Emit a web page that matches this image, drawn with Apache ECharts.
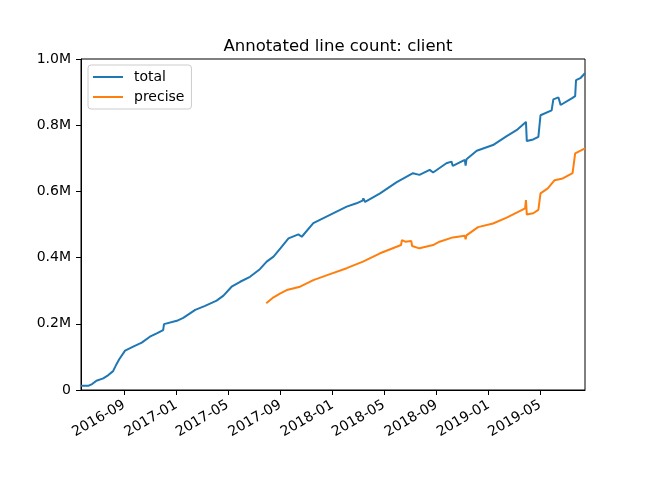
<!DOCTYPE html>
<html>
<head>
<meta charset="utf-8">
<script src="https://cdn.jsdelivr.net/npm/echarts@6/dist/echarts.min.js"></script>
<style>
  html, body { margin: 0; padding: 0; background: #fff; }
  #chart { width: 650px; height: 488px; }
</style>
</head>
<body>
<div id="chart"></div>
<script>
const chartTitle = 'Annotated line count: client';
const seriesNames = ['total', 'precise'];

const totalDates = [
  '2016-05-23','2016-06-10','2016-06-18','2016-06-28','2016-07-14','2016-07-26','2016-08-06','2016-08-14',
  '2016-08-20','2016-09-03','2016-09-22','2016-10-12','2016-10-31','2016-11-16','2016-12-01','2016-12-03',
  '2017-01-02','2017-01-17','2017-02-14','2017-03-09','2017-04-05','2017-04-21','2017-05-10','2017-05-30',
  '2017-06-22','2017-07-15','2017-07-31','2017-08-16','2017-09-01','2017-09-20','2017-10-13','2017-10-21',
  '2017-11-17','2017-12-26','2018-02-03','2018-02-26','2018-03-12','2018-03-14','2018-03-18','2018-03-22',
  '2018-04-22','2018-05-31','2018-07-08','2018-07-23','2018-08-16','2018-08-24','2018-09-24','2018-10-06',
  '2018-10-09','2018-11-06','2018-11-08','2018-11-10','2018-12-04','2019-01-11','2019-02-12','2019-03-07',
  '2019-03-29','2019-03-31','2019-04-15','2019-04-27','2019-05-02','2019-05-28','2019-06-01','2019-06-13',
  '2019-06-18','2019-07-14','2019-07-22','2019-07-24','2019-08-03','2019-08-14'
];
const totalValues = [
  13000,13000,18000,28000,35000,45000,57000,78000,
  92000,119000,131000,143000,161000,171000,181000,199000,
  209000,218000,242000,254000,270000,285000,312000,327000,
  342000,365000,388000,403000,428000,458000,470000,463000,
  504000,529000,554000,564000,572000,579000,568000,566000,
  594000,628000,655000,650000,665000,657000,685000,690000,
  677000,695000,678000,697000,723000,740000,767000,785000,
  810000,752000,757000,765000,830000,845000,878000,884000,
  861000,881000,888000,936000,942000,957000
];

const preciseDates = [
  '2017-07-30','2017-08-16','2017-09-01','2017-09-16','2017-10-17','2017-10-21','2017-11-17','2017-12-26',
  '2018-02-03','2018-03-13','2018-04-22','2018-06-10','2018-06-12','2018-06-20','2018-06-24','2018-07-04',
  '2018-07-06','2018-07-23','2018-08-24','2018-09-08','2018-10-09','2018-11-06','2018-11-08','2018-11-10',
  '2018-12-07','2019-01-11','2019-02-12','2019-03-27','2019-03-29','2019-03-31','2019-04-15','2019-04-19',
  '2019-04-27','2019-05-02','2019-05-19','2019-06-04','2019-06-23','2019-07-16','2019-07-22','2019-08-14'
];
const preciseValues = [
  262000,280000,292000,302000,312000,308000,332000,350000,
  368000,388000,413000,438000,453000,448000,454000,450000,
  435000,428000,438000,448000,461000,466000,455000,467000,
  492000,503000,521000,549000,574000,530000,534000,528000,
  544000,594000,609000,634000,639000,655000,715000,730000
];

const xTickLabels = ['2016-09','2017-01','2017-05','2017-09','2018-01','2018-05','2018-09','2019-01','2019-05'];
const xMin = '2016-05-23';
const xMax = '2019-08-14';

function parseDay(s) {
  const p = s.split('-').map(Number);
  return Date.UTC(p[0], p[1] - 1, p[2] || 1);
}
function pad(n) { return (n < 10 ? '0' : '') + n; }

const xTickValues = xTickLabels.map(l => parseDay(l + '-01'));
const totalData = totalDates.map((d, i) => [parseDay(d), totalValues[i]]);
const preciseData = preciseDates.map((d, i) => [parseDay(d), preciseValues[i]]);

const FONT = 'DejaVu Sans';
const chart = echarts.init(document.getElementById('chart'), null, { renderer: 'canvas' });
chart.setOption({
  animation: false,
  backgroundColor: '#fff',
  textStyle: { fontFamily: FONT },
  title: {
    text: chartTitle,
    left: 333,
    textAlign: 'center',
    top: 33,
    textStyle: { fontFamily: FONT, fontSize: 16.5, fontWeight: 'normal', color: '#000' }
  },
  legend: {
    orient: 'vertical',
    left: 88,
    top: 65,
    padding: [5, 7, 5, 5],
    itemWidth: 30,
    itemHeight: 2,
    itemGap: 6,
    icon: 'rect',
    borderColor: '#cccccc',
    borderWidth: 1,
    borderRadius: 3,
    backgroundColor: 'rgba(255,255,255,0.8)',
    textStyle: { fontFamily: FONT, fontSize: 14, color: '#000', padding: [0, 0, 0, 6] },
    data: seriesNames
  },
  grid: {
    left: 81, right: 65, top: 59, bottom: 98,
    show: true, borderColor: '#000', borderWidth: 1, containLabel: false
  },
  xAxis: {
    type: 'value',
    min: parseDay(xMin),
    max: parseDay(xMax),
    splitLine: { show: false },
    axisLine: { show: true, lineStyle: { color: '#000', width: 1 } },
    axisTick: { show: true, inside: false, length: 5, lineStyle: { color: '#000' }, customValues: xTickValues },
    axisLabel: {
      customValues: xTickValues,
      rotate: 30,
      margin: 14,
      fontFamily: FONT,
      fontSize: 14,
      color: '#000',
      formatter: function (v) { const d = new Date(v); return d.getUTCFullYear() + '-' + pad(d.getUTCMonth() + 1); }
    }
  },
  yAxis: {
    type: 'value',
    min: 0,
    max: 1000000,
    interval: 200000,
    splitLine: { show: false },
    axisLine: { show: true, lineStyle: { color: '#000', width: 1 } },
    axisTick: { show: true, inside: false, length: 5, lineStyle: { color: '#000' } },
    axisLabel: {
      margin: 10,
      fontFamily: FONT,
      fontSize: 14,
      color: '#000',
      formatter: function (v) { return v === 0 ? '0' : (v / 1000000).toFixed(1) + 'M'; }
    }
  },
  series: [
    {
      name: seriesNames[0], type: 'line', data: totalData, showSymbol: false, symbol: 'none',
      lineStyle: { color: '#1f77b4', width: 2 }, itemStyle: { color: '#1f77b4' }
    },
    {
      name: seriesNames[1], type: 'line', data: preciseData, showSymbol: false, symbol: 'none',
      lineStyle: { color: '#ff7f0e', width: 2 }, itemStyle: { color: '#ff7f0e' }
    }
  ]
});
</script>
</body>
</html>
